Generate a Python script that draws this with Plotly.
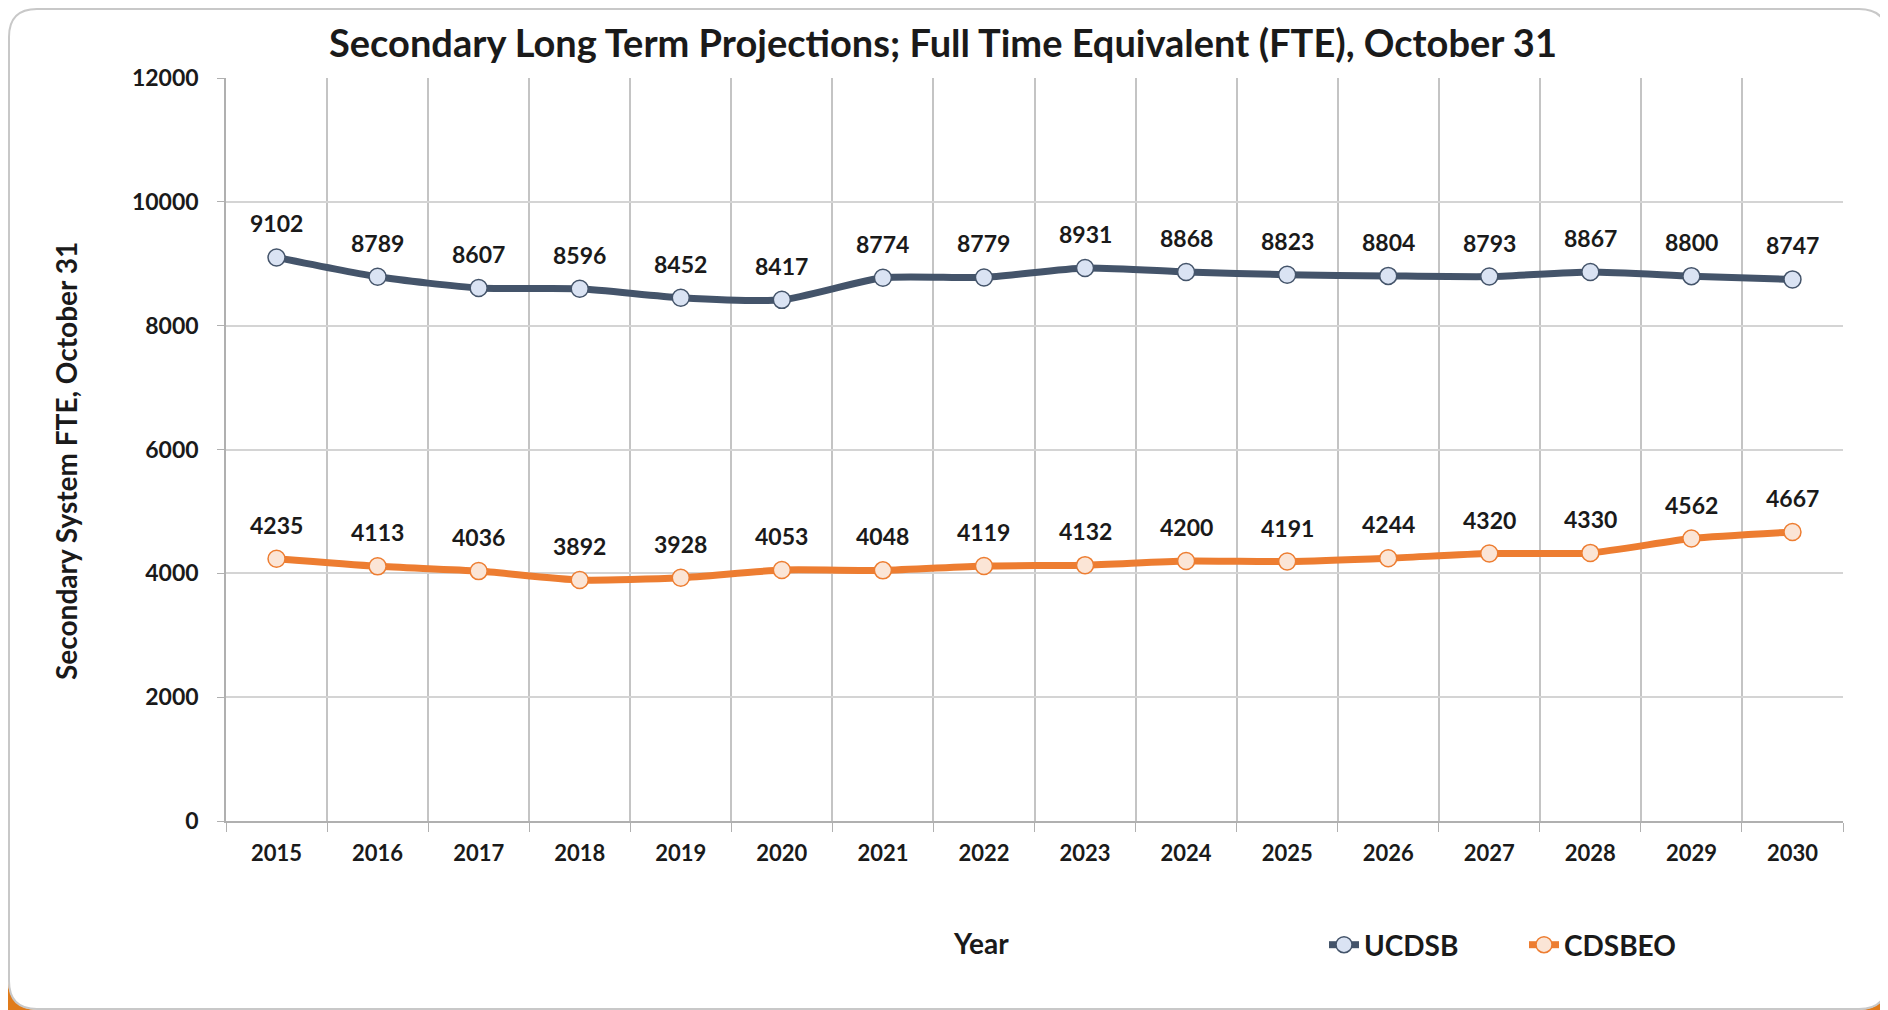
import plotly.graph_objects as go

# Data
years = ["2015", "2016", "2017", "2018", "2019", "2020", "2021", "2022",
         "2023", "2024", "2025", "2026", "2027", "2028", "2029", "2030"]
ucdsb = [9102, 8789, 8607, 8596, 8452, 8417, 8774, 8779,
         8931, 8868, 8823, 8804, 8793, 8867, 8800, 8747]
cdsbeo = [4235, 4113, 4036, 3892, 3928, 4053, 4048, 4119,
          4132, 4200, 4191, 4244, 4320, 4330, 4562, 4667]

FONT = "Lato"
TXT = "#1a1a1a"
OFF = 8  # page body margin of the browser
W, H = 1888 - OFF, 1010 - OFF
L, R, T, B = 226 - OFF, 45, 78 - OFF, 189
PW, PH = W - L - R, H - T - B


def px(x):
    # screen pixel x -> paper x
    return (x - OFF - L) / PW


def py(y):
    # screen pixel y -> paper y
    return (H - B - (y - OFF)) / PH


fig = go.Figure()

series = [
    ("UCDSB", ucdsb, "#44546a", "#dae3f3"),
    ("CDSBEO", cdsbeo, "#ed7d31", "#fbe5d6"),
]
for name, vals, col, fill in series:
    fig.add_trace(go.Scatter(
        x=years, y=vals, name=name, mode="lines+markers",
        line=dict(color=col, width=7, shape="spline", smoothing=0.6),
        marker=dict(symbol="circle", size=17, color=fill,
                    line=dict(color=col, width=1.5)),
    ))
    # data labels; x given as category index so the axis stays categorical
    for i, v in enumerate(vals):
        fig.add_annotation(x=i, y=v, text=f"<b>{v}</b>", showarrow=False,
                           yshift=34, font=dict(family=FONT, size=23, color=TXT))

# axis titles placed like the original
fig.add_annotation(x=px(981), y=py(943), xref="paper", yref="paper",
                   xanchor="center", yanchor="middle",
                   text="<b>Year</b>", showarrow=False,
                   font=dict(family=FONT, size=28, color=TXT))
fig.add_annotation(x=px(66), y=py(461), xref="paper", yref="paper",
                   xanchor="center", yanchor="middle",
                   text="<b>Secondary System FTE, October 31</b>", showarrow=False,
                   textangle=-90, font=dict(family=FONT, size=28, color=TXT))

# rounded card outline
r = 28
x0, x1, y0, y1 = -L / PW, (W - L) / PW, -B / PH, (H - B) / PH
ix0, ix1, iy0, iy1 = x0 + 1 / PW, x1 - 1 / PW, y0 + 1 / PH, y1 - 1 / PH
rx, ry = r / PW, r / PH
card = (f"M {ix0+rx},{iy1} L {ix1-rx},{iy1} Q {ix1},{iy1} {ix1},{iy1-ry} "
        f"L {ix1},{iy0+ry} Q {ix1},{iy0} {ix1-rx},{iy0} L {ix0+rx},{iy0} "
        f"Q {ix0},{iy0} {ix0},{iy0+ry} L {ix0},{iy1-ry} Q {ix0},{iy1} {ix0+rx},{iy1} Z")
# orange background visible in the bottom corners
corner_l = f"M {x0},{y0} L {x0},{iy0+ry} Q {ix0},{iy0} {ix0+rx},{y0} Z"
corner_r = f"M {x1},{y0} L {x1},{iy0+ry} Q {ix1},{iy0} {ix1-rx},{y0} Z"
shapes = [
    dict(type="path", xref="paper", yref="paper", path=corner_l,
         fillcolor="#e07b1a", line=dict(width=0)),
    dict(type="path", xref="paper", yref="paper", path=corner_r,
         fillcolor="#e07b1a", line=dict(width=0)),
    dict(type="path", xref="paper", yref="paper", path=card,
         line=dict(color="#c8c8c8", width=2)),
]

fig.update_layout(
    width=W, height=H,
    margin=dict(l=L, r=R, t=T, b=B, autoexpand=False),
    paper_bgcolor="white", plot_bgcolor="white",
    font=dict(family=FONT, color=TXT),
    title=dict(text="<b>Secondary Long Term Projections; Full Time Equivalent (FTE), October 31</b>",
               x=(943 - OFF) / W, xanchor="center", y=1 - (44 - OFF) / H, yanchor="middle",
               font=dict(family=FONT, size=38, color=TXT)),
    shapes=shapes,
    showlegend=True,
    legend=dict(orientation="h", x=px(1324), y=py(945), xanchor="left", yanchor="middle",
                font=dict(family=FONT, size=28, color=TXT, weight="bold"),
                entrywidth=155, traceorder="normal", bgcolor="rgba(0,0,0,0)"),
)

fig.update_xaxes(
    type="category", tickson="boundaries",
    range=[-0.5, len(years) - 0.5],
    showgrid=True, gridcolor="#c4c4c4", gridwidth=1.5,
    showline=True, linecolor="#b0b0b0", linewidth=1.5,
    ticks="outside", ticklen=9, tickcolor="#b0b0b0",
    tickfont=dict(family=FONT, size=22, color=TXT, weight="bold"),
    tickangle=0, ticklabelstandoff=12, automargin=False, fixedrange=True,
)
fig.update_yaxes(
    range=[0, 12000], dtick=2000, tickformat="d",
    showgrid=True, gridcolor="#d4d4d4", gridwidth=1.5, zeroline=False,
    showline=True, linecolor="#b0b0b0", linewidth=1.5,
    ticks="outside", ticklen=7, tickcolor="#b0b0b0",
    tickfont=dict(family=FONT, size=23, color=TXT, weight="bold"),
    ticklabelstandoff=14, automargin=False, fixedrange=True,
)

fig.write_html("out.html")
